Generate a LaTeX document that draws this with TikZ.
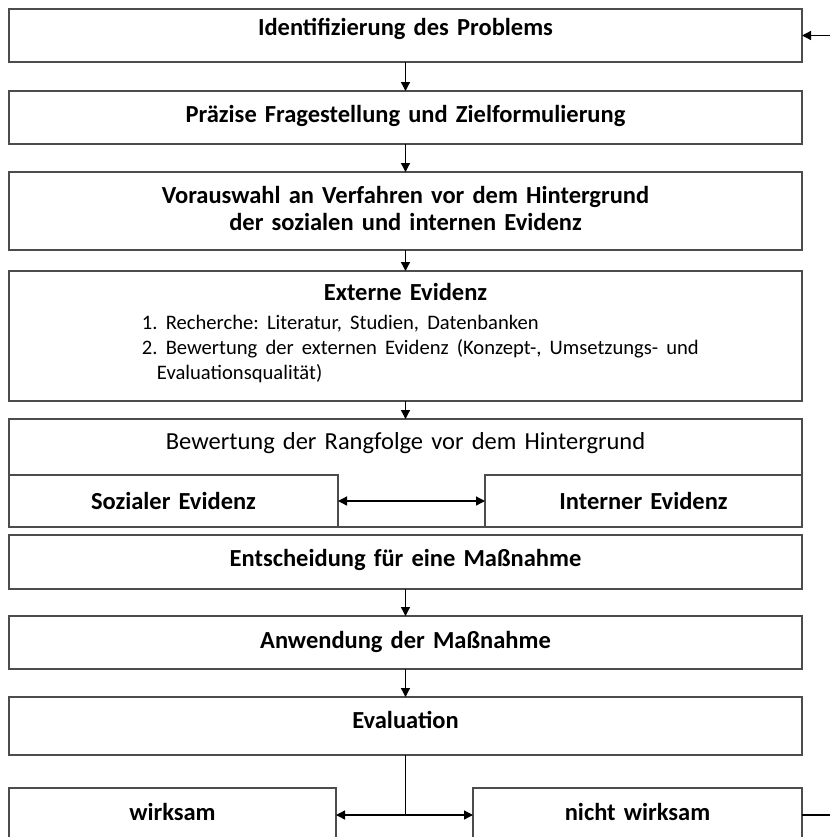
\documentclass[tikz,border=0pt]{standalone}
\usepackage{fontspec}
\setmainfont{Carlito}
\usetikzlibrary{arrows.meta,positioning}
\frenchspacing
\newcommand\mainsize{\fontsize{12.25}{13.5}\selectfont}
\newcommand\listsize{\fontsize{10.3}{12.5}\selectfont}
\tikzset{
  box/.style={draw=black!70,line width=0.65pt,inner sep=0pt,outer sep=0pt,
    align=center,text width=396.5pt,font=\mainsize\bfseries},
  halfbox/.style={box,text width=#1},
  txt/.style 2 args={text height=#1,text depth=#2},
  arrow/.style={-{Triangle[length=4.5pt,width=4.5pt]},line width=0.65pt},
  twoway/.style={{Triangle[length=4.5pt,width=4.5pt]}-{Triangle[length=4.5pt,width=4.5pt]},
    line width=0.65pt},
  link/.style={line width=0.65pt}
}
\begin{document}
\begin{tikzpicture}
  \useasboundingbox (-4.5pt,4.5pt) rectangle (411pt,-414pt);
  \clip (-4.5pt,4.5pt) rectangle (411pt,-414pt);
  % steps of the procedure
  \node[box,txt={13pt}{13.5pt},anchor=north west] (ident) at (0,0) {Identifizierung des Problems};
  \node[box,txt={15.5pt}{11pt},below=14.5pt of ident] (frage) {Präzise Fragestellung und Zielformulierung};
  \node[box,txt={15.5pt}{23.5pt},below=14pt of frage] (auswahl)
    {Vorauswahl an Verfahren vor dem Hintergrund\\der sozialen und internen Evidenz};
  \node[box,align=left,txt={14.5pt}{50.5pt},below=10.5pt of auswahl] (extern)
    {{\centering Externe Evidenz\par}\vspace{2pt}
     {\listsize\mdseries\leftskip=66.5pt
      1. Recherche: Literatur, Studien, Datenbanken\\
      \makebox[314pt][s]{2. Bewertung der externen Evidenz (Konzept-, Umsetzungs- und}\\
      \hspace*{7.5pt}Evaluationsqualität)\par}};
  \node[box,font=\mainsize,txt={15pt}{39pt},below=9pt of extern] (rang)
    {Bewertung der Rangfolge vor dem Hintergrund};
  \node[halfbox=164.5pt,txt={17pt}{9pt},anchor=south west] (sozial) at (rang.south west) {Sozialer Evidenz};
  \node[halfbox=158.5pt,txt={17pt}{9pt},anchor=south east] (intern) at (rang.south east) {Interner Evidenz};
  \node[box,txt={15.5pt}{11.5pt},below=4pt of rang] (entsch) {Entscheidung für eine Maßnahme};
  \node[box,txt={16pt}{10.5pt},below=13.5pt of entsch] (anw) {Anwendung der Maßnahme};
  \node[box,txt={15.5pt}{13.5pt},below=14pt of anw] (eval) {Evaluation};
  % outcome
  \node[halfbox=163.5pt,txt={16pt}{11pt},below=16.5pt of eval.south west,anchor=north west] (wirk) {wirksam};
  \node[halfbox=164.5pt,txt={16pt}{11pt},below=16.5pt of eval.south east,anchor=north east] (nwirk) {nicht wirksam};
  \coordinate (split) at (eval.south |- wirk.east);
  % loop back, cut off at the right edge
  \coordinate (back out) at ([xshift=14pt]nwirk.east);
  \coordinate (back in) at ([xshift=14pt]ident.east);
  % connectors
  \draw[arrow] (ident) -- (frage);
  \draw[arrow] (frage) -- (auswahl);
  \draw[arrow] (auswahl) -- (extern);
  \draw[arrow] (extern) -- (rang);
  \draw[twoway] (sozial) -- (intern);
  \draw[arrow] (entsch) -- (anw);
  \draw[arrow] (anw) -- (eval);
  \draw[link] (eval) -- (split);
  \draw[arrow] (split) -- (wirk);
  \draw[arrow] (split) -- (nwirk);
  \draw[link] (nwirk) -- (back out);
  \draw[arrow] (back in) -- (ident);
\end{tikzpicture}
\end{document}
